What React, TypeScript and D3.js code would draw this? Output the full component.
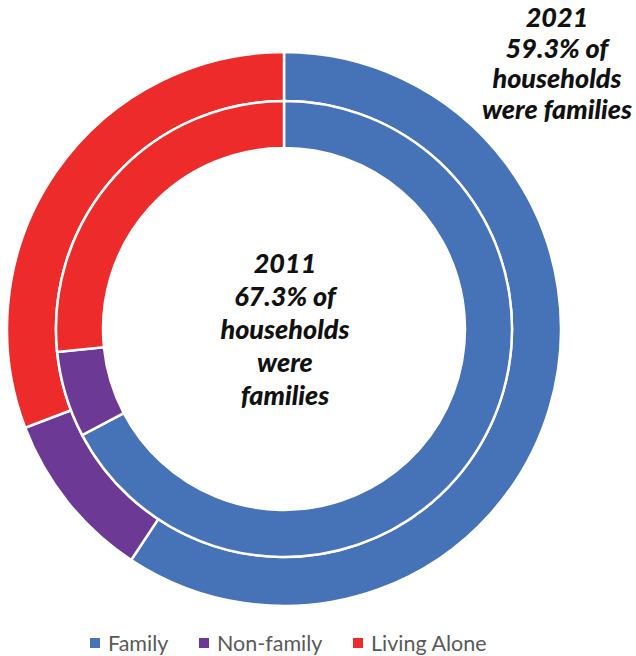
import React from "react";
import * as d3 from "d3";

const categories = ["Family", "Non-family", "Living Alone"];
const values2021 = [59.3, 9.9, 30.8];
const values2011 = [67.3, 6.1, 26.6];
const colors = ["#4672B7", "#6C3A95", "#EE2B2B"];
const label2021 = ["2021", "59.3% of", "households", "were families"];
const label2011 = ["2011", "67.3% of", "households", "were", "families"];

export default function App() {
  const W = 636, H = 656;
  const cx = 284, cy = 329;
  const pie = d3.pie<number>().sort(null).value((d) => d);
  const outerArc = d3.arc<d3.PieArcDatum<number>>().innerRadius(228).outerRadius(277);
  const innerArc = d3.arc<d3.PieArcDatum<number>>().innerRadius(181).outerRadius(228);
  const font = "Lato, 'Open Sans', sans-serif";
  const legendX = [90, 199, 353];
  return (
    <svg width={W} height={H} style={{ position: "absolute", left: 0, top: 0 }}>
      <rect width={W} height={H} fill="#fff" />
      <g transform={`translate(${cx},${cy})`}>
        {pie(values2021).map((d, i) => (
          <path key={"o" + i} d={outerArc(d) || ""} fill={colors[i]} stroke="#fff" strokeWidth={2.5} />
        ))}
        {pie(values2011).map((d, i) => (
          <path key={"i" + i} d={innerArc(d) || ""} fill={colors[i]} stroke="#fff" strokeWidth={2.5} />
        ))}
      </g>
      <text fontFamily={font} fontWeight={900} fontStyle="italic" fontSize={27} textAnchor="middle" fill="#111">
        {label2021.map((t, i) => (
          <tspan key={i} x={557} y={27 + i * 30.5}>{t}</tspan>
        ))}
      </text>
      <text fontFamily={font} fontWeight={900} fontStyle="italic" fontSize={27} textAnchor="middle" fill="#111">
        {label2011.map((t, i) => (
          <tspan key={i} x={285} y={273 + i * 33}>{t}</tspan>
        ))}
      </text>
      {categories.map((c, i) => (
        <g key={c}>
          <rect x={legendX[i]} y={638} width={10} height={10} fill={colors[i]} />
          <text x={legendX[i] + 18} y={651} fontFamily={font} fontSize={21.5} fill="#595959">{c}</text>
        </g>
      ))}
    </svg>
  );
}
